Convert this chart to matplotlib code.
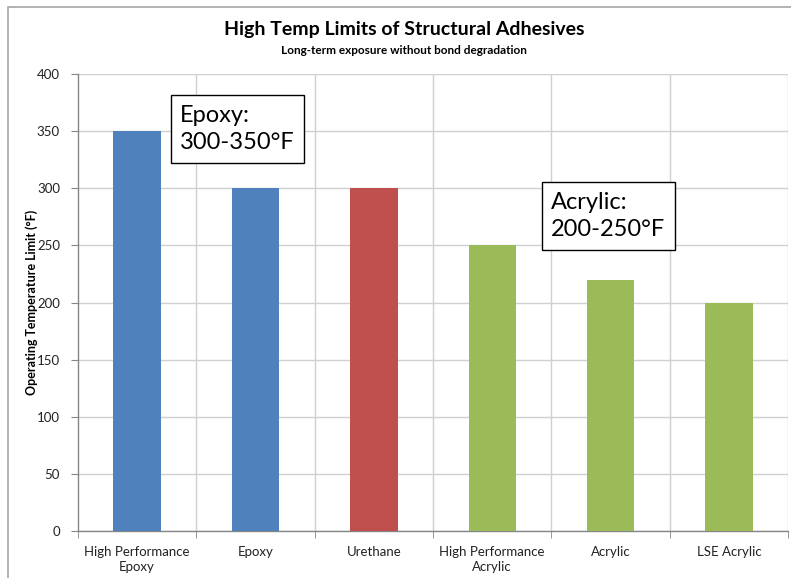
import numpy as np
import matplotlib
matplotlib.use('Agg')
import matplotlib.pyplot as plt
from matplotlib.patches import Rectangle

# data
categories = ['High Performance\nEpoxy', 'Epoxy', 'Urethane',
              'High Performance\nAcrylic', 'Acrylic', 'LSE Acrylic']
temps = [350, 300, 300, 250, 220, 200]
bar_colors = ['#4F81BD', '#4F81BD', '#C0504D', '#9BBB59', '#9BBB59', '#9BBB59']
yticks = [0, 50, 100, 150, 200, 250, 300, 350, 400]

plt.rcParams['font.family'] = ['Lato', 'DejaVu Sans']

W, H = 791, 578
fig = plt.figure(figsize=(W/100, H/100), dpi=100)
fig.patch.set_facecolor('white')

# outer chart frame
fig.patches.append(Rectangle((8/W, -0.05), 1.0, 1 - 7/H + 0.05, transform=fig.transFigure,
                             fill=False, edgecolor='#a6a6a6', linewidth=1.2))

ax = fig.add_axes([78/W, 1 - 531/H, (788-78)/W, (531-74)/H])
x = np.arange(len(categories))
ax.bar(x, temps, width=0.4, color=bar_colors, zorder=3)

ax.set_xlim(-0.5, len(categories) - 0.5)
ax.set_ylim(0, 400)
ax.set_yticks(yticks)
ax.set_yticklabels([str(v) for v in yticks], fontsize=9.5, color='#222222')
ax.set_xticks(x)
ax.set_xticklabels(categories, fontsize=9.5, color='#222222', linespacing=1.25)
ax.tick_params(axis='x', length=0, pad=11)
ax.tick_params(axis='y', length=5, color='#868686', pad=8, direction='out')

# category boundary lines (vertical grid) + tick marks below axis
bounds = np.arange(len(categories) + 1) - 0.5
for b in bounds[1:]:
    ax.axvline(b, color='#d0d0d0', linewidth=1.0, zorder=1)
ax.set_xticks(bounds, minor=True)
ax.tick_params(axis='x', which='minor', length=5, color='#868686', direction='out')
ax.yaxis.grid(True, color='#d0d0d0', linewidth=1.0, zorder=1)
ax.set_axisbelow(True)

for s in ['top', 'right']:
    ax.spines[s].set_visible(False)
for s in ['left', 'bottom']:
    ax.spines[s].set_color('#868686')
    ax.spines[s].set_linewidth(1.0)

ax.set_ylabel('Operating Temperature Limit (°F)', fontsize=9, fontweight='bold')
ax.yaxis.set_label_coords(-40/(788-78), 0.5)

fig.text(404/W, 1 - 30/H, 'High Temp Limits of Structural Adhesives',
         ha='center', va='center', fontsize=14, fontweight='bold')
fig.text(404/W, 1 - 50/H, 'Long-term exposure without bond degradation',
         ha='center', va='center', fontsize=8.5, fontweight='bold')

box = dict(boxstyle='square,pad=0.4', facecolor='white', edgecolor='black', linewidth=1.0)
fig.text(180/W, 1 - 129/H, 'Epoxy:\n300-350°F', ha='left', va='center',
         fontsize=17, linespacing=1.4, bbox=box)
fig.text(551/W, 1 - 216/H, 'Acrylic:\n200-250°F', ha='left', va='center',
         fontsize=17, linespacing=1.4, bbox=box)

fig.savefig('out.png', dpi=100)
